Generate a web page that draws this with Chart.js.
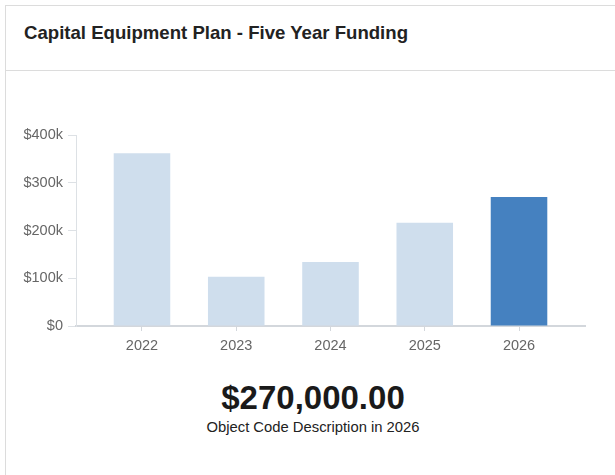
<!DOCTYPE html>
<html>
<head>
<meta charset="utf-8">
<script src="https://cdn.jsdelivr.net/npm/chart.js@4.4.1/dist/chart.umd.min.js"></script>
<style>
  html, body { margin: 0; padding: 0; background: #fff; overflow: hidden; }
  body { width: 615px; height: 475px; position: relative; font-family: "Liberation Sans", Arial, sans-serif; }
  .card {
    position: absolute; left: 5px; top: 5px; width: 614px; height: 600px;
    border: 1px solid #dcdcdc; background: #fff;
  }
  .card-header {
    height: 65px; border-bottom: 1px solid #dcdcdc;
    padding-left: 18px; padding-bottom: 10px; box-sizing: border-box;
    display: flex; align-items: center;
  }
  .card-header h1 { margin: 0; font-size: 18.6px; font-weight: bold; color: #222; }
  .chart-box { position: absolute; left: -6px; top: 66px; width: 615px; height: 300px; }
  .summary { position: absolute; left: 0; top: 372px; width: 614px; text-align: center; }
  #total { font-size: 33px; font-weight: bold; color: #1a1a1a; line-height: 40px; }
  #caption { font-size: 14.8px; color: #222; line-height: 18px; margin-top: 0; }
</style>
</head>
<body>
<div class="card">
  <div class="card-header"><h1>Capital Equipment Plan - Five Year Funding</h1></div>
  <div class="chart-box"><canvas id="fundingChart" width="615" height="300"></canvas></div>
  <div class="summary">
    <div id="total"></div>
    <div id="caption"></div>
  </div>
</div>
<script>
const years = ['2022', '2023', '2024', '2025', '2026'];
const funding = [362000, 103000, 134000, 216000, 270000];
const yTicks = [0, 100000, 200000, 300000, 400000];
const selectedYear = '2026';

const barColor = '#cfdeed';
const selectedColor = '#4581c0';

function moneyShort(v) {
  return v === 0 ? '$0' : '$' + (v / 1000) + 'k';
}

function drawSummary() {
  const idx = years.indexOf(selectedYear);
  document.getElementById('total').textContent = funding[idx].toLocaleString('en-US', {
    style: 'currency', currency: 'USD', minimumFractionDigits: 2
  });
  document.getElementById('caption').textContent = 'Object Code Description in ' + selectedYear;
}

function drawChart() {
  const ctx = document.getElementById('fundingChart').getContext('2d');
  const points = years.map((y, i) => ({ x: i, y: funding[i] }));
  const colors = years.map(y => y === selectedYear ? selectedColor : barColor);
  const tickFont = { family: '"Liberation Sans", Arial, sans-serif', size: 14.5 };

  new Chart(ctx, {
    type: 'bar',
    data: {
      datasets: [{
        label: 'Funding',
        data: points,
        backgroundColor: colors,
        borderWidth: 0,
        barPercentage: 0.75,
        categoryPercentage: 0.8
      }]
    },
    options: {
      responsive: false,
      animation: false,
      layout: { padding: { left: 20, right: 30, top: 63, bottom: 6 } },
      scales: {
        x: {
          type: 'linear',
          offset: false,
          min: -0.7,
          max: years.length - 0.3,
          afterBuildTicks: (scale) => {
            scale.ticks = years.map((y, i) => ({ value: i }));
          },
          afterFit: (scale) => { scale.height = 40; },
          grid: { offset: false, drawOnChartArea: false, drawTicks: true, tickLength: 5, color: '#d3d7dc' },
          border: { display: true, color: '#d3d7dc', width: 2 },
          ticks: {
            color: '#666',
            padding: 6,
            font: tickFont,
            callback: (v) => years[v]
          }
        },
        y: {
          min: 0,
          max: yTicks[yTicks.length - 1],
          afterBuildTicks: (scale) => {
            scale.ticks = yTicks.map(v => ({ value: v }));
          },
          afterFit: (scale) => { scale.width = 56; },
          grid: { drawOnChartArea: false, drawTicks: true, tickLength: 8, color: '#dde1e5' },
          border: { display: true, color: '#dde1e5', width: 1 },
          ticks: {
            color: '#666',
            padding: 5,
            font: tickFont,
            callback: moneyShort
          }
        }
      },
      plugins: {
        legend: { display: false },
        tooltip: { enabled: false }
      }
    }
  });
}

document.addEventListener('DOMContentLoaded', function () {
  drawSummary();
  drawChart();
});
</script>
</body>
</html>
